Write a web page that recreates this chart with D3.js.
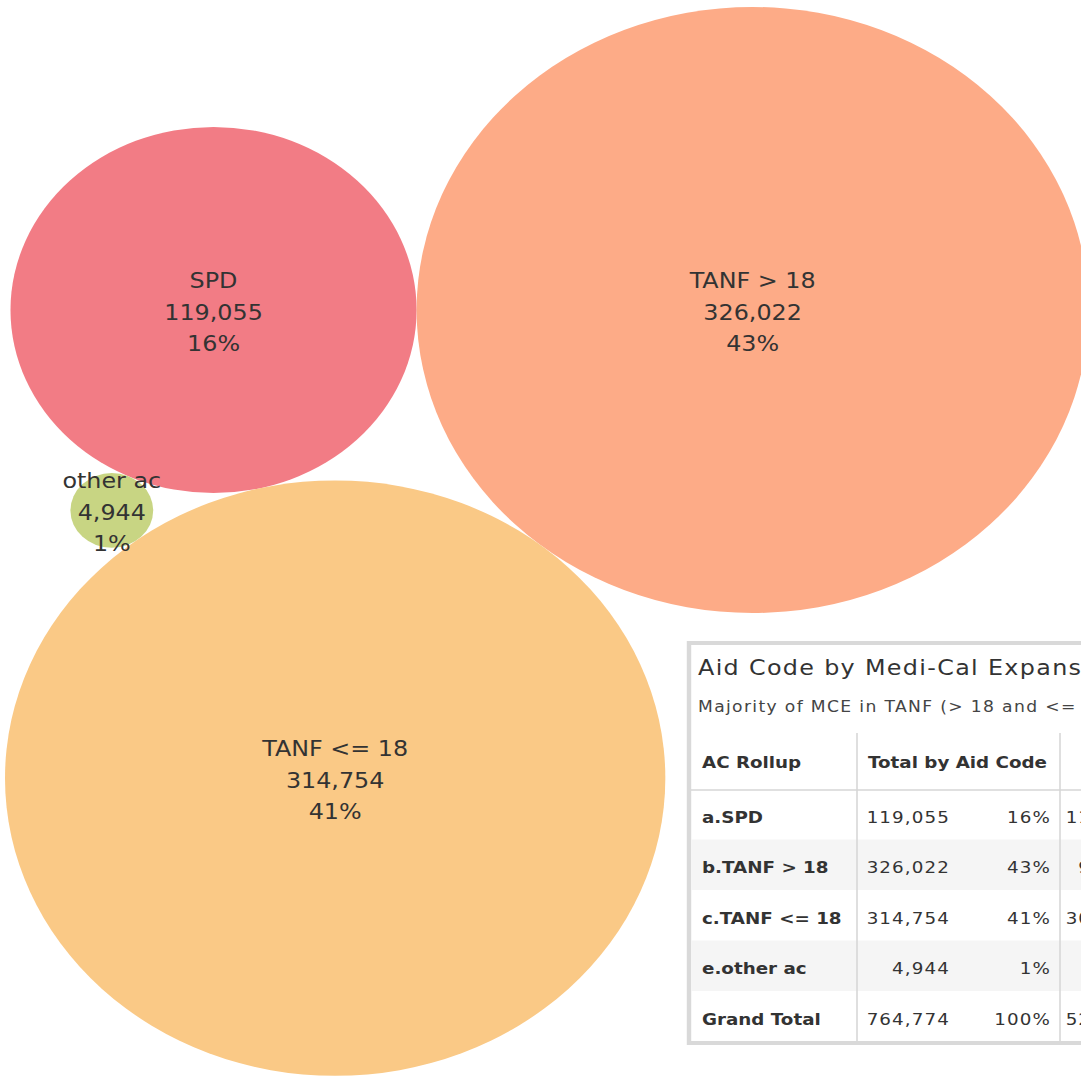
<!DOCTYPE html>
<html>
<head>
<meta charset="utf-8">
<script src="https://cdn.jsdelivr.net/npm/d3@7"></script>
<style>
  html, body { margin: 0; padding: 0; background: #fff; overflow: hidden; }
  svg { display: block; font-family: "DejaVu Sans", sans-serif; }
</style>
</head>
<body>
<svg id="chart" width="1081" height="1079"></svg>
<script>
// Medi-Cal Expansion members by aid code rollup
const categories = ["SPD", "TANF > 18", "TANF <= 18", "other ac"];
const members = [119055, 326022, 314754, 4944];
const shares = ["16%", "43%", "41%", "1%"];
const colors = ["#f27c85", "#fdab87", "#fac986", "#c8d583"];

// Summary table
const tableTitle = "Aid Code by Medi-Cal Expansion";
const tableSubtitle = "Majority of MCE in TANF (> 18 and <= 18)";
const headers = ["AC Rollup", "Total by Aid Code"];
const rowLabels = ["a.SPD", "b.TANF > 18", "c.TANF <= 18", "e.other ac", "Grand Total"];
const rowTotals = [119055, 326022, 314754, 4944, 764774];
const rowShares = ["16%", "43%", "41%", "1%", "100%"];
const rowMce = [118240, 97861, 306512, 2115, 524728];

const SX = 1.109;               // horizontal stretch of the whole view
const fmt = d3.format(",");
const svg = d3.select("#chart");

// ---------- bubbles ----------
const r = d3.scaleSqrt().domain([0, d3.max(members)]).range([0, 303]);
const nodes = categories.map((c, i) => ({
  name: c, value: members[i], share: shares[i], color: colors[i], r: r(members[i])
}));

// circle of radius rc touching circles a and b, on the left of the a->b direction
function touch(a, b, rc) {
  const dx = b.x - a.x, dy = b.y - a.y, d = Math.hypot(dx, dy);
  const ra = a.r + rc, rb = b.r + rc;
  const t = (d * d + ra * ra - rb * rb) / (2 * d);
  const h = Math.sqrt(Math.max(0, ra * ra - t * t));
  const ux = dx / d, uy = dy / d;
  return { x: a.x + t * ux - h * uy, y: a.y + t * uy + h * ux };
}
const [spd, adult, child, other] = nodes;
spd.x = 0; spd.y = 0;
adult.x = spd.r + adult.r; adult.y = 0;
Object.assign(child, touch(spd, adult, child.r));
Object.assign(other, touch(spd, child, other.r));

const minX = d3.min(nodes, d => d.x - d.r);
const minY = d3.min(nodes, d => d.y - d.r);
const gB = svg.append("g")
  .attr("transform", `scale(${SX},1) translate(${5 / SX - minX},${7 - minY})`);

gB.selectAll("circle").data(nodes).join("circle")
  .attr("cx", d => d.x).attr("cy", d => d.y).attr("r", d => d.r)
  .attr("fill", d => d.color);

const lab = gB.selectAll("text.lab").data(nodes).join("text")
  .attr("class", "lab")
  .attr("text-anchor", "middle")
  .attr("font-size", 21.5)
  .attr("fill", "#333");
lab.each(function (d) {
  const lines = [d.name, fmt(d.value), d.share];
  d3.select(this).selectAll("tspan").data(lines).join("tspan")
    .attr("x", d.x)
    .attr("y", (t, i) => d.y + 9.5 + (i - 1) * 31.5)
    .text(t => t);
});

// ---------- table ----------
const gT = svg.append("g").attr("transform", `scale(${SX},1)`);
const X = v => v / SX;

gT.append("rect")
  .attr("x", X(689)).attr("y", 643)
  .attr("width", X(1200 - 689)).attr("height", 1043 - 643)
  .attr("fill", "#fff").attr("stroke", "#d9d9d9").attr("stroke-width", 4);

gT.append("text").attr("x", X(698)).attr("y", 675)
  .attr("font-size", 21.5).attr("letter-spacing", 1.2).attr("fill", "#333")
  .text(tableTitle);
gT.append("text").attr("x", X(698)).attr("y", 712)
  .attr("font-size", 15.5).attr("letter-spacing", 1.2).attr("fill", "#444")
  .text(tableSubtitle);

const rowTop = 789, rowH = 50.5;
const y = d3.scaleLinear().domain([0, 1]).range([rowTop, rowTop + rowH]);

// banded rows
gT.selectAll("rect.band").data(rowLabels.map((d, i) => i).filter(i => i % 2 === 1)).join("rect")
  .attr("class", "band")
  .attr("x", X(691)).attr("y", i => y(i)).attr("width", X(1200 - 691)).attr("height", rowH)
  .attr("fill", "#f5f5f5");

// grid lines
gT.append("line").attr("x1", X(691)).attr("x2", X(1200)).attr("y1", 790).attr("y2", 790)
  .attr("stroke", "#d6d6d6").attr("stroke-width", 1.5);
[857, 1060].forEach(xv => {
  gT.append("line").attr("x1", X(xv)).attr("x2", X(xv)).attr("y1", 733).attr("y2", 1041)
    .attr("stroke", "#d6d6d6").attr("stroke-width", 1.4);
});

// headers
gT.selectAll("text.hdr").data(headers).join("text")
  .attr("class", "hdr")
  .attr("x", (d, i) => X(i === 0 ? 702 : 868)).attr("y", 768)
  .attr("font-size", 16.5).attr("font-weight", "bold").attr("fill", "#333")
  .text(d => d);

// body
gT.selectAll("text.rl").data(rowLabels).join("text")
  .attr("class", "rl")
  .attr("x", X(702)).attr("y", (d, i) => y(i) + 34)
  .attr("font-size", 16.5).attr("font-weight", "bold").attr("fill", "#333")
  .text(d => d);
gT.selectAll("text.tot").data(rowTotals).join("text")
  .attr("class", "tot").attr("text-anchor", "end")
  .attr("x", X(950)).attr("y", (d, i) => y(i) + 34)
  .attr("font-size", 16.5).attr("letter-spacing", 1).attr("fill", "#333")
  .text(d => fmt(d));
gT.selectAll("text.shr").data(rowShares).join("text")
  .attr("class", "shr").attr("text-anchor", "end")
  .attr("x", X(1051)).attr("y", (d, i) => y(i) + 34)
  .attr("font-size", 16.5).attr("letter-spacing", 1).attr("fill", "#333")
  .text(d => d);
gT.selectAll("text.mce").data(rowMce).join("text")
  .attr("class", "mce").attr("text-anchor", "end")
  .attr("x", X(1149)).attr("y", (d, i) => y(i) + 34)
  .attr("font-size", 16.5).attr("letter-spacing", 1).attr("fill", "#333")
  .text(d => fmt(d));
</script>
</body>
</html>
